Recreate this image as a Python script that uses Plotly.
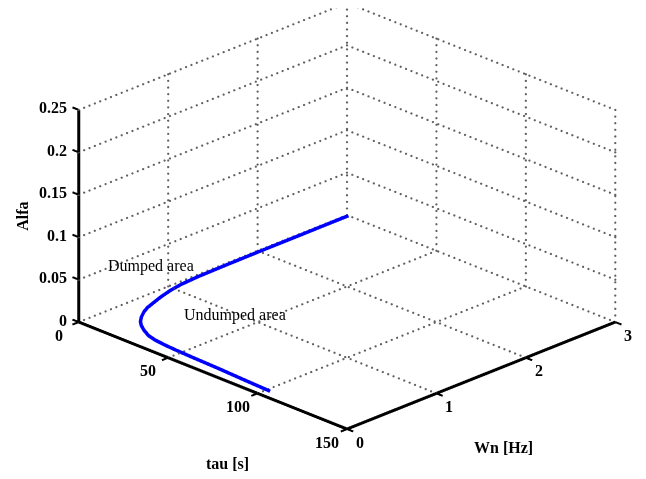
import plotly.graph_objects as go

# ---- data ----
tau_s = [102, 86, 72, 58, 47, 40, 34, 29, 24, 20, 17, 14, 11, 9, 7.5, 5.5, 3.5, 2.2, 1.5, 1.2, 1.0, 0.9, 0.8]
wn_hz = [0.10, 0.115, 0.13, 0.14, 0.15, 0.16, 0.175, 0.20, 0.25, 0.30, 0.35, 0.42, 0.51, 0.59, 0.68, 0.80, 0.95, 1.1, 1.3, 1.6, 2.0, 2.5, 3.0]
alfa = [0.0] * len(tau_s)

tau_ticks = [0, 50, 100, 150]
wn_ticks = [0, 1, 2, 3]
alfa_ticks = [0, 0.05, 0.1, 0.15, 0.2, 0.25]
alfa_tick_labels = ["0", "0.05", "0.1", "0.15", "0.2", "0.25"]

T0, T1 = tau_ticks[0], tau_ticks[-1]
W0, W1 = wn_ticks[0], wn_ticks[-1]
A0, A1 = alfa_ticks[0], alfa_ticks[-1]

# ---- dotted grid (drawn as small dots along the grid lines) ----
N_T, N_W, N_A = 50, 50, 32   # dots per grid line
gx, gy, gz = [], [], []
def dots(p, q, n):
    for i in range(n + 1):
        f = i / n
        gx.append(p[0] + (q[0] - p[0]) * f)
        gy.append(p[1] + (q[1] - p[1]) * f)
        gz.append(p[2] + (q[2] - p[2]) * f)

for t in tau_ticks[:-1]:
    dots((t, W0, A0), (t, W1, A0), N_W)         # floor
for w in wn_ticks[1:]:
    dots((T0, w, A0), (T1, w, A0), N_T)         # floor
    dots((T0, w, A0), (T0, w, A1), N_A)         # left back wall
for a in alfa_ticks:
    dots((T0, W0, a), (T0, W1, a), N_W)         # left back wall
    dots((T0, W1, a), (T1, W1, a), N_T)         # right back wall
for t in tau_ticks:
    dots((t, W1, A0), (t, W1, A1), N_A)         # right back wall

# ---- axis lines ----
ax_x = [T0, T1, None, T1, T1, None, T0, T0]
ax_y = [W0, W0, None, W0, W1, None, W0, W0]
ax_z = [A0, A0, None, A0, A0, None, A0, A1]

# ---- tick marks ----
tl_tau = 3.5
tl_wn = 0.07
kx, ky, kz = [], [], []
for t in tau_ticks:
    kx.extend([t, t, None]); ky.extend([W0, W0 - tl_wn, None]); kz.extend([A0, A0, None])
for w in wn_ticks:
    kx.extend([T1, T1 + tl_tau, None]); ky.extend([w, w, None]); kz.extend([A0, A0, None])
for a in alfa_ticks:
    kx.extend([T0, T0 - tl_tau, None]); ky.extend([W0, W0, None]); kz.extend([a, a, None])

fig = go.Figure()
fig.add_trace(go.Scatter3d(x=gx, y=gy, z=gz, mode="markers",
                           marker=dict(color="#606060", size=1.3, line=dict(width=0)),
                           hoverinfo="skip", showlegend=False))
fig.add_trace(go.Scatter3d(x=ax_x, y=ax_y, z=ax_z, mode="lines",
                           line=dict(color="black", width=6),
                           hoverinfo="skip", showlegend=False))
fig.add_trace(go.Scatter3d(x=kx, y=ky, z=kz, mode="lines",
                           line=dict(color="black", width=4),
                           hoverinfo="skip", showlegend=False))
fig.add_trace(go.Scatter3d(x=tau_s, y=wn_hz, z=alfa, mode="lines",
                           line=dict(color="#0000ff", width=7),
                           hoverinfo="skip", showlegend=False))

bold = dict(family="Liberation Serif", size=16, color="black", weight="bold")
reg = dict(family="Liberation Serif", size=16, color="black")
ann = []
for t in tau_ticks:
    ann.append(dict(x=t, y=W0, z=A0, text=str(t), showarrow=False, font=bold,
                    xanchor="center", yanchor="middle", xshift=-20, yshift=-13))
for w in wn_ticks:
    ann.append(dict(x=T1, y=w, z=A0, text=str(w), showarrow=False, font=bold,
                    xanchor="center", yanchor="middle", xshift=13, yshift=-13))
for a, lab in zip(alfa_ticks, alfa_tick_labels):
    ann.append(dict(x=T0, y=W0, z=a, text=lab, showarrow=False, font=bold,
                    xanchor="right", yanchor="middle", xshift=-10, yshift=2))
ann.append(dict(x=75, y=W0, z=A0, text="tau [s]", showarrow=False, font=bold,
                xanchor="center", yanchor="middle", xshift=15, yshift=-88))
ann.append(dict(x=T1, y=1.5, z=A0, text="Wn [Hz]", showarrow=False, font=bold,
                xanchor="center", yanchor="middle", xshift=22, yshift=-72))
ann.append(dict(x=T0, y=W0, z=0.125, text="Alfa", showarrow=False, font=bold,
                textangle=-90, xanchor="center", yanchor="middle", xshift=-56, yshift=0))
ann.append(dict(x=0, y=0.31, z=0.053, text="Dumped area", showarrow=False, font=reg,
                xanchor="left", yanchor="middle"))
ann.append(dict(x=24, y=0.68, z=0, text="Undumped area", showarrow=False, font=reg,
                xanchor="left", yanchor="middle"))

hidden = dict(showgrid=False, zeroline=False, showline=False, showticklabels=False,
              ticks="", showbackground=False, showspikes=False, title=dict(text=""))
# view box: z range extended downward so the box sits higher in the full-height viewport
z_lo, z_hi = -0.0743, 0.25
s = 1.6685
fig.update_layout(
    width=646, height=479,
    margin=dict(l=40, r=8, t=0, b=0),
    paper_bgcolor="white",
    showlegend=False,
    hovermode=False,
    scene=dict(
        xaxis=dict(range=[-4, 154], **hidden),
        yaxis=dict(range=[-0.08, 3.08], **hidden),
        zaxis=dict(range=[z_lo, z_hi], **hidden),
        aspectmode="manual",
        aspectratio=dict(x=s, y=s, z=s * 0.579 * (z_hi - z_lo) / 0.25),
        camera=dict(eye=dict(x=1.0, y=-1.0, z=0.615),
                    up=dict(x=0, y=0, z=1),
                    center=dict(x=0, y=0, z=0),
                    projection=dict(type="orthographic")),
        annotations=ann,
        dragmode=False,
    ),
)
fig.write_html("out.html")
